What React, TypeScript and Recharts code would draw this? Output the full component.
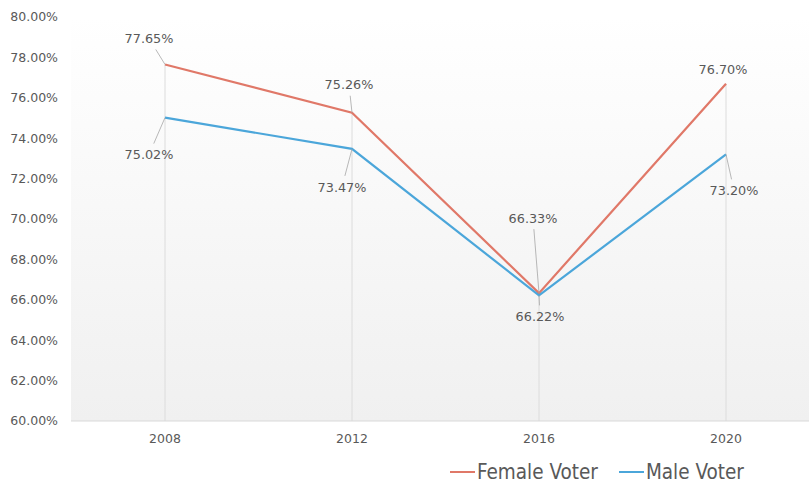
import { LineChart, Line, XAxis, YAxis, CartesianGrid, ReferenceLine, LabelList } from "recharts";

// ── Data ──────────────────────────────────────────────────────────────────────
const YEARS = ["2008", "2012", "2016", "2020"];
const FEMALE = [77.65, 75.26, 66.33, 76.7];
const MALE = [75.02, 73.47, 66.22, 73.2];
const Y_TICKS = [60, 62, 64, 66, 68, 70, 72, 74, 76, 78, 80];

// label centre offsets from the point (layout only)
const FEMALE_LABEL_POS = [[-16, -26], [-3, -28], [-6, -75], [-3, -14]];
const MALE_LABEL_POS = [[-16, 37], [-10, 38], [1, 21], [8, 36]];

const FEMALE_COLOR = "#E07868";
const MALE_COLOR = "#4BA6DA";
const TEXT = "#595959";
const FONT = "'DejaVu Sans', sans-serif";

const data = YEARS.map((year, i) => ({ year, female: FEMALE[i], male: MALE[i] }));
const pct = (v: number) => `${v.toFixed(2)}%`;

function DataLabel(props: any) {
  const { x, y, value, index, pos } = props;
  if (x == null || y == null) return null;
  const [dx, dy] = pos[index];
  const cx = x + dx, cy = y + dy;
  const dist = Math.hypot(dx, dy);
  let leader = null;
  if (dist > 18) {
    // stop the leader a little outside the text box
    const edge = 11;
    const t = Math.min(1, edge / Math.abs(dy));
    const ex = cx + dx * -t, ey = cy + dy * -t;
    leader = <line x1={x} y1={y} x2={ex} y2={ey} stroke="#a6a6a6" strokeWidth={0.8} />;
  }
  return (
    <g>
      {leader}
      <text x={cx} y={cy} dy="0.36em" textAnchor="middle" fontSize={12.8} fill={TEXT} fontFamily={FONT}>
        {pct(value)}
      </text>
    </g>
  );
}

export default function App() {
  return (
    <div style={{ position: "absolute", left: 0, top: 0, width: 809, height: 489, overflow: "hidden", background: "#fff" }}>
      <LineChart width={900} height={489} data={data} margin={{ top: 17, right: 80, left: 0, bottom: 38 }}>
        <defs>
          <linearGradient id="plotBg" x1="0" y1="0" x2="0" y2="1">
            <stop offset="0%" stopColor="#ffffff" />
            <stop offset="100%" stopColor="#f0f0f0" />
          </linearGradient>
        </defs>
        <CartesianGrid horizontal={false} vertical={false} fill="url(#plotBg)" fillOpacity={1} />
        <XAxis
          dataKey="year"
          padding={{ left: 94, right: 94 }}
          tickSize={0}
          tickMargin={13}
          axisLine={{ stroke: "#d9d9d9" }}
          tick={{ fontSize: 12.5, fill: TEXT, fontFamily: FONT }}
          height={30}
        />
        <YAxis
          domain={[60, 80]}
          ticks={Y_TICKS}
          width={71}
          tickSize={0}
          tickMargin={13}
          axisLine={false}
          tickFormatter={pct}
          tick={{ fontSize: 12.5, fill: TEXT, fontFamily: FONT }}
        />
        {YEARS.map((yr, i) => (
          <ReferenceLine
            key={yr}
            segment={[{ x: yr, y: 60 }, { x: yr, y: Math.max(FEMALE[i], MALE[i]) }]}
            stroke="#dcdcdc"
            strokeWidth={1}
          />
        ))}
        <Line type="linear" dataKey="female" stroke={FEMALE_COLOR} strokeWidth={2.2} dot={false} isAnimationActive={false}>
          <LabelList dataKey="female" content={(p: any) => <DataLabel {...p} pos={FEMALE_LABEL_POS} />} />
        </Line>
        <Line type="linear" dataKey="male" stroke={MALE_COLOR} strokeWidth={2.2} dot={false} isAnimationActive={false}>
          <LabelList dataKey="male" content={(p: any) => <DataLabel {...p} pos={MALE_LABEL_POS} />} />
        </Line>
      </LineChart>

      {/* legend */}
      <div
        style={{
          position: "absolute", left: 450, top: 460, display: "flex", alignItems: "center",
          fontFamily: "'DejaVu Sans Condensed', 'DejaVu Sans', sans-serif", fontStretch: "condensed",
          fontSize: 20.5, color: TEXT, whiteSpace: "nowrap",
        }}
      >
        <span style={{ width: 25, height: 2, background: FEMALE_COLOR, display: "inline-block", marginRight: 2 }} />
        <span>Female Voter</span>
        <span style={{ width: 25, height: 2, background: MALE_COLOR, display: "inline-block", marginLeft: 21, marginRight: 2 }} />
        <span>Male Voter</span>
      </div>
    </div>
  );
}
